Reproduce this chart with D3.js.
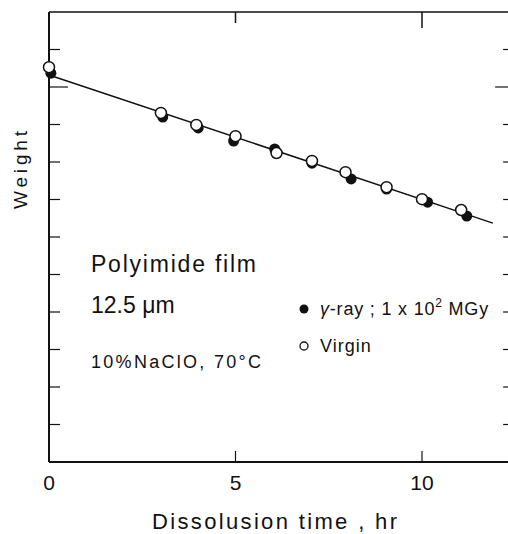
<!DOCTYPE html>
<html>
<head>
<meta charset="utf-8">
<script src="https://cdn.jsdelivr.net/npm/d3@7"></script>
<style>
	body { margin: 0; background: #fff; }
	svg text { font-family: "Liberation Sans", Arial, sans-serif; fill: #111; }
</style>
</head>
<body>
<div id="chart"></div>
<script>
// values (weight in tick units, time in hours)
var hoursVirgin = [0, 3.0, 3.95, 5.0, 6.1, 7.05, 7.95, 9.05, 10.0, 11.05];
var weightVirgin = [10.53, 9.31, 8.99, 8.69, 8.24, 8.03, 7.73, 7.33, 7.01, 6.72];
var hoursGamma = [0.05, 3.05, 4.0, 4.95, 6.05, 7.05, 8.1, 9.05, 10.15, 11.2];
var weightGamma = [10.37, 9.2, 8.91, 8.56, 8.35, 7.97, 7.55, 7.28, 6.93, 6.56];
// fitted line end points
var fitHours = [0, 11.9];
var fitWeight = [10.32, 6.37];
var xTickValues = [0, 5, 10];
var yTickValues = d3.range(0, 13);

var width = 508, height = 534;
var margin = { top: 12, left: 49, bottom: 72 };

var svg = d3.select("#chart").append("svg")
	.attr("width", width)
	.attr("height", height);

var x = d3.scaleLinear()
	.domain([0, 12.47])
	.range([margin.left, margin.left + 12.47 * 37.3]);
var y = d3.scaleLinear()
	.domain([0, 12])
	.range([height - margin.bottom, margin.top]);

var x0 = x(0), x1 = x(12.47), y0 = y(0), y1 = y(12);

// frame
var frame = svg.append("g").attr("stroke", "#111").attr("fill", "none");
frame.append("line").attr("x1", x0).attr("x2", x0).attr("y1", y1).attr("y2", y0).attr("stroke-width", 2);
frame.append("line").attr("x1", x0).attr("x2", x1).attr("y1", y0).attr("y2", y0).attr("stroke-width", 2);
frame.append("line").attr("x1", x0).attr("x2", x1).attr("y1", y1).attr("y2", y1).attr("stroke-width", 1.5);
frame.append("line").attr("x1", x1).attr("x2", x1).attr("y1", y1).attr("y2", y0).attr("stroke-width", 1.5);

// y ticks, both sides, pointing inward
yTickValues.slice(1, 12).forEach(function (v) {
	var len = v === 10 ? 19 : 11;
	frame.append("line").attr("x1", x0).attr("x2", x0 + len)
		.attr("y1", y(v)).attr("y2", y(v)).attr("stroke-width", 1.2);
	frame.append("line").attr("x1", x1).attr("x2", x1 - len)
		.attr("y1", y(v)).attr("y2", y(v)).attr("stroke-width", 1.2);
});

// x ticks top and bottom
xTickValues.slice(1).forEach(function (v) {
	frame.append("line").attr("x1", x(v)).attr("x2", x(v))
		.attr("y1", y0).attr("y2", y0 - 11).attr("stroke-width", 1.2);
	frame.append("line").attr("x1", x(v)).attr("x2", x(v))
		.attr("y1", y1).attr("y2", y1 + (v === 10 ? 16 : 11)).attr("stroke-width", 1.5);
});

// x tick labels
svg.append("g").selectAll("text")
	.data(xTickValues)
	.enter()
	.append("text")
	.attr("x", function (d) { return x(d); })
	.attr("y", y0 + 28)
	.attr("text-anchor", "middle")
	.attr("font-size", "21px")
	.text(function (d) { return d; });

// axis labels
svg.append("text")
	.attr("x", 152)
	.attr("y", 529)
	.attr("font-size", "22px")
	.attr("textLength", 245)
	.attr("lengthAdjust", "spacing")
	.text("Dissolusion  time ,  hr");
svg.append("text")
	.attr("transform", "translate(27,170) rotate(-90)")
	.attr("text-anchor", "middle")
	.attr("font-size", "19px")
	.attr("textLength", 78)
	.attr("lengthAdjust", "spacing")
	.text("Weight");

// fitted line
var line = d3.line()
	.x(function (d) { return x(d[0]); })
	.y(function (d) { return y(d[1]); });
svg.append("path")
	.datum(d3.zip(fitHours, fitWeight))
	.attr("d", line)
	.attr("fill", "none")
	.attr("stroke", "#111")
	.attr("stroke-width", 1.5);

// gamma-ray points (filled)
svg.append("g").selectAll("circle")
	.data(d3.zip(hoursGamma, weightGamma))
	.enter()
	.append("circle")
	.attr("cx", function (d) { return x(d[0]); })
	.attr("cy", function (d) { return y(d[1]); })
	.attr("r", 5.5)
	.attr("fill", "#111");

// virgin points (open)
svg.append("g").selectAll("circle")
	.data(d3.zip(hoursVirgin, weightVirgin))
	.enter()
	.append("circle")
	.attr("cx", function (d) { return x(d[0]); })
	.attr("cy", function (d) { return y(d[1]); })
	.attr("r", 5.5)
	.attr("fill", "#fff")
	.attr("stroke", "#111")
	.attr("stroke-width", 1.5);

// annotation
svg.append("text")
	.attr("x", 91).attr("y", 272)
	.attr("font-size", "23px")
	.attr("textLength", 165)
	.attr("lengthAdjust", "spacing")
	.text("Polyimide  film");
svg.append("text")
	.attr("x", 91).attr("y", 313)
	.attr("font-size", "23px")
	.text("12.5 \u03bcm");
svg.append("text")
	.attr("x", 91).attr("y", 368)
	.attr("font-size", "18px")
	.attr("textLength", 170)
	.attr("lengthAdjust", "spacing")
	.text("10%NaClO,  70\u00b0C");

// legend
var legend = svg.append("g").attr("transform", "translate(304,0)");
legend.append("circle").attr("cx", 0).attr("cy", 309).attr("r", 4.5).attr("fill", "#111");
var g1 = legend.append("text").attr("x", 16).attr("y", 315).attr("font-size", "18px")
	.attr("letter-spacing", "0.8px");
g1.append("tspan").attr("font-style", "italic").text("\u03b3");
g1.append("tspan").text("-ray ; 1 x 10");
g1.append("tspan").attr("dy", -8).attr("font-size", "12px").text("2");
g1.append("tspan").attr("dy", 8).text(" MGy");
legend.append("circle").attr("cx", 0).attr("cy", 346).attr("r", 4).attr("fill", "#fff")
	.attr("stroke", "#111").attr("stroke-width", 1.3);
legend.append("text").attr("x", 16).attr("y", 352).attr("font-size", "18px")
	.attr("letter-spacing", "1px").text("Virgin");
</script>
</body>
</html>
